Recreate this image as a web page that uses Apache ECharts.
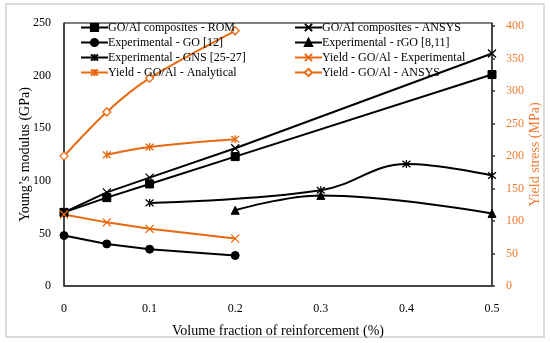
<!DOCTYPE html>
<html>
<head>
<meta charset="utf-8">
<script src="https://cdn.jsdelivr.net/npm/echarts@6/dist/echarts.min.js"></script>
<style>html,body{margin:0;padding:0;background:#fff}#c{width:550px;height:343px}</style>
</head>
<body>
<div id="c"></div>
<script>
const xTicks = [0, 0.1, 0.2, 0.3, 0.4, 0.5];
const yLeftTicks = [0, 50, 100, 150, 200, 250];
const yRightTicks = [0, 50, 100, 150, 200, 250, 300, 350, 400];

const romX = [0, 0.05, 0.1, 0.2, 0.5];
const romY = [70, 84, 97, 123, 201];
const ansysX = [0, 0.05, 0.1, 0.2, 0.5];
const ansysY = [70, 89, 103, 131, 221];
const goX = [0, 0.05, 0.1, 0.2];
const goY = [48, 40, 35, 29];
const rgoX = [0.2, 0.3, 0.5];
const rgoY = [72, 86, 69];
const gnsX = [0.1, 0.3, 0.4, 0.5];
const gnsY = [79, 91, 116, 105];
const yAnaX = [0.05, 0.1, 0.2];
const yAnaY = [202, 214, 226];
const yExpX = [0, 0.05, 0.1, 0.2];
const yExpY = [110, 98, 88, 73];
const yAnsX = [0, 0.05, 0.1, 0.2];
const yAnsY = [200, 268, 320, 393];

const pairs = (xs, ys) => xs.map((x, i) => [x, ys[i]]);

const BLACK = '#000000';
const ORANGE = '#E8690F';
const FONT = '"Liberation Serif", "DejaVu Serif", serif';
const CROSS = 'path://M0,0L10,10M10,0L0,10';
const STAR = 'path://M0,0L10,10M10,0L0,10M5,-1L5,11';

function mk(name, xs, ys, color, symbol, size, opts) {
  const o = Object.assign({
    name: name,
    type: 'line',
    data: pairs(xs, ys),
    symbol: symbol,
    symbolSize: size,
    lineStyle: { color: color, width: 2 },
    itemStyle: { color: color, borderColor: color, borderWidth: 1 },
    yAxisIndex: 0,
    z: 3
  }, opts || {});
  return o;
}

const series = [
  mk('GO/Al composites - ROM', romX, romY, BLACK, 'rect', 8),
  mk('GO/Al composites - ANSYS', ansysX, ansysY, BLACK, CROSS, 8, { itemStyle: { color: BLACK, borderColor: BLACK, borderWidth: 1.3 } }),
  mk('Experimental - GO [12]', goX, goY, BLACK, 'circle', 8),
  mk('Experimental - rGO [8,11]', rgoX, rgoY, BLACK, 'triangle', 8, { smooth: 0.4 }),
  mk('Experimental - GNS [25-27]', gnsX, gnsY, BLACK, STAR, 8, { smooth: 0.4, itemStyle: { color: BLACK, borderColor: BLACK, borderWidth: 1.3 } }),
  mk('Yield - GO/Al - Experimental', yExpX, yExpY, ORANGE, CROSS, 8, { yAxisIndex: 1, itemStyle: { color: ORANGE, borderColor: ORANGE, borderWidth: 1.3 } }),
  mk('Yield - GO/Al - Analytical', yAnaX, yAnaY, ORANGE, STAR, 8, { yAxisIndex: 1, smooth: 0.4, itemStyle: { color: ORANGE, borderColor: ORANGE, borderWidth: 1.3 } }),
  mk('Yield - GO/Al - ANSYS', yAnsX, yAnsY, ORANGE, 'diamond', 8, { yAxisIndex: 1, smooth: 0.3, itemStyle: { color: '#fff', borderColor: ORANGE, borderWidth: 1.3 } })
];

const legendCommon = {
  orient: 'vertical',
  itemWidth: 27,
  itemHeight: 9,
  itemGap: 0,
  padding: 0,
  textStyle: { fontFamily: FONT, fontSize: 12, color: '#000', lineHeight: 15, padding: [0, 0, 0, -5] },
  selectedMode: false
};

const chart = echarts.init(document.getElementById('c'), null, { renderer: 'canvas' });
chart.setOption({
  animation: false,
  backgroundColor: '#fff',
  textStyle: { fontFamily: FONT },
  grid: { left: 64, right: 58, top: 23, bottom: 52, show: true, borderColor: '#000', borderWidth: 1, backgroundColor: 'transparent' },
  legend: [
    Object.assign({}, legendCommon, { left: 80, top: 20, data: ['GO/Al composites - ROM', 'Experimental - GO [12]', 'Experimental - GNS [25-27]', 'Yield - GO/Al - Analytical'] }),
    Object.assign({}, legendCommon, { left: 294, top: 20, data: ['GO/Al composites - ANSYS', 'Experimental - rGO [8,11]', 'Yield - GO/Al - Experimental', 'Yield - GO/Al - ANSYS'] })
  ],
  xAxis: {
    type: 'value', min: 0, max: 0.5, interval: 0.1,
    name: 'Volume fraction of reinforcement (%)', nameLocation: 'middle', nameGap: 38,
    nameTextStyle: { fontFamily: FONT, fontSize: 14, color: '#000' },
    axisLine: { show: true, lineStyle: { color: '#333', width: 1.5 } },
    axisTick: { show: false },
    splitLine: { show: false },
    axisLabel: { customValues: xTicks, fontFamily: FONT, fontSize: 12, color: '#000', margin: 17, formatter: v => String(v) }
  },
  yAxis: [
    {
      type: 'value', min: 0, max: 250, interval: 50, position: 'left',
      name: 'Young’s modulus (GPa)', nameLocation: 'middle', nameGap: 32, nameRotate: 90, nameMoveOverlap: false,
      nameTextStyle: { fontFamily: FONT, fontSize: 14, color: '#000' },
      axisLine: { show: true, lineStyle: { color: '#333', width: 1.5 } },
      axisTick: { show: false },
      splitLine: { show: false },
      axisLabel: { customValues: yLeftTicks, fontFamily: FONT, fontSize: 12, color: '#000', margin: 13 }
    },
    {
      type: 'value', min: 0, max: 405, position: 'right',
      name: 'Yield stress (MPa)', nameLocation: 'middle', nameGap: 36, nameRotate: 90, nameMoveOverlap: false,
      nameTextStyle: { fontFamily: FONT, fontSize: 14, color: '#F07A32' },
      axisLine: { show: true, lineStyle: { color: '#333', width: 1.5 } },
      axisTick: { show: true, inside: false, length: 3, customValues: yRightTicks, lineStyle: { color: '#333', width: 1.5 } },
      splitLine: { show: false },
      axisLabel: { customValues: yRightTicks, fontFamily: FONT, fontSize: 12, color: '#F07A32', margin: 14 }
    }
  ],
  graphic: [
    { type: 'rect', shape: { x: 6, y: 4, width: 538, height: 333 }, style: { fill: 'none', stroke: '#dcdcdc', lineWidth: 2 }, silent: true, z: -1 }
  ],
  series: series
});
</script>
</body>
</html>
